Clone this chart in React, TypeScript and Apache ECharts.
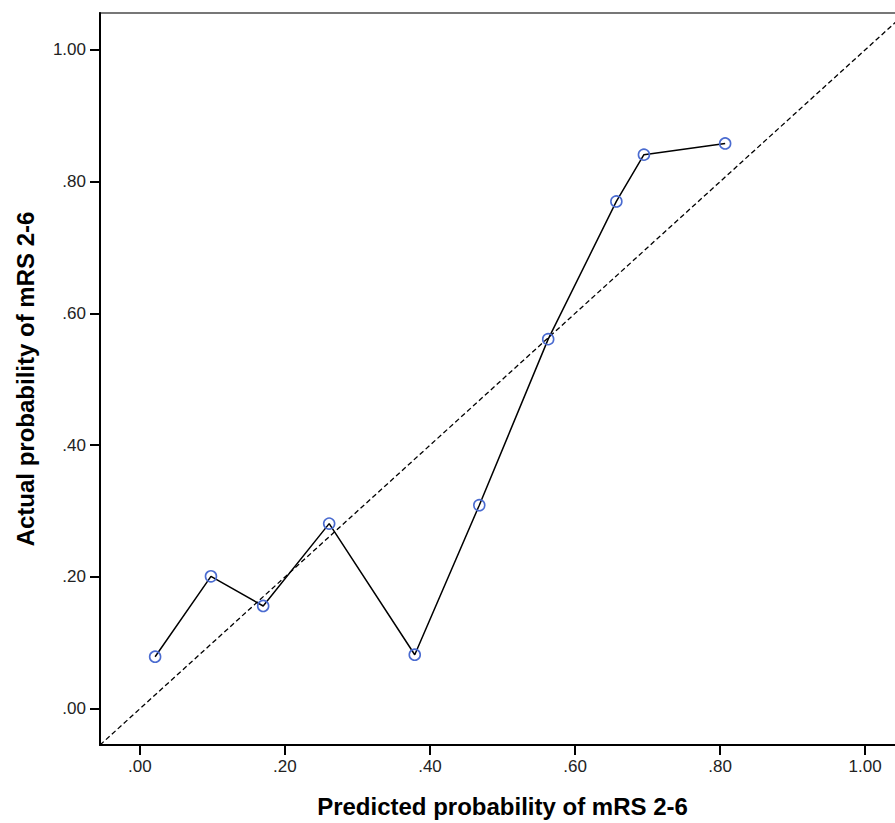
import React, { useEffect, useRef } from "react";
import * as echarts from "echarts";

const predicted = [0.021, 0.098, 0.170, 0.261, 0.379, 0.468, 0.563, 0.657, 0.695, 0.807];
const actual = [0.079, 0.201, 0.156, 0.281, 0.082, 0.309, 0.561, 0.770, 0.841, 0.858];
const tickValues = [0, 0.2, 0.4, 0.6, 0.8, 1.0];
const diagonal = [-0.055, 1.1];

const fmt = (v: number) => (v >= 1 ? v.toFixed(2) : v.toFixed(2).replace(/^0/, ""));

export default function App() {
  const ref = useRef<HTMLDivElement>(null);
  useEffect(() => {
    if (!ref.current) return;
    const chart = echarts.init(ref.current, null, { renderer: "svg" });
    const axisCommon = {
      type: "value",
      min: -0.055,
      nameLocation: "middle",
      nameTextStyle: { fontFamily: "Liberation Sans", fontWeight: "bold", fontSize: 24, color: "#000" },
      axisLine: { show: true, onZero: false, lineStyle: { color: "#000", width: 2 } },
      axisTick: { show: true, inside: false, length: 10, lineStyle: { color: "#000", width: 2 }, customValues: tickValues },
      splitLine: { show: false },
    };
    const labelCommon = {
      fontFamily: "Liberation Sans",
      fontSize: 17,
      color: "#222",
      customValues: tickValues,
      formatter: (v: number) => fmt(v),
    };
    chart.setOption({
      animation: false,
      backgroundColor: "#fff",
      grid: {
        left: 100,
        top: 13,
        right: 15,
        bottom: 76,
        show: true,
        borderColor: "#777",
        borderWidth: 2,
      },
      xAxis: {
        ...axisCommon,
        max: 1.055,
        name: "Predicted probability of mRS 2-6",
        nameGap: 49,
        axisLabel: { ...labelCommon, margin: 13 },
      },
      yAxis: {
        ...axisCommon,
        max: 1.056,
        name: "Actual probability of mRS 2-6",
        nameGap: 63,
        axisLabel: { ...labelCommon, margin: 14 },
      },
      series: [
        {
          type: "line",
          data: diagonal.map((v) => [v, v]),
          showSymbol: false,
          symbol: "none",
          lineStyle: { color: "#000", width: 1.3, type: [5, 3] },
          silent: true,
          z: 1,
        },
        {
          type: "line",
          data: predicted.map((p, i) => [p, actual[i]]),
          symbol: "circle",
          symbolSize: 11,
          showSymbol: true,
          lineStyle: { color: "#000", width: 1.5 },
          itemStyle: { color: "rgba(255,255,255,0)", borderColor: "#4a6bd0", borderWidth: 1.6 },
          z: 2,
        },
      ],
    });
    return () => chart.dispose();
  }, []);
  return (
    <div style={{ position: "fixed", left: 0, top: 0, width: 895, height: 823, overflow: "hidden" }}>
      <div ref={ref} style={{ width: 920, height: 823 }} />
    </div>
  );
}
